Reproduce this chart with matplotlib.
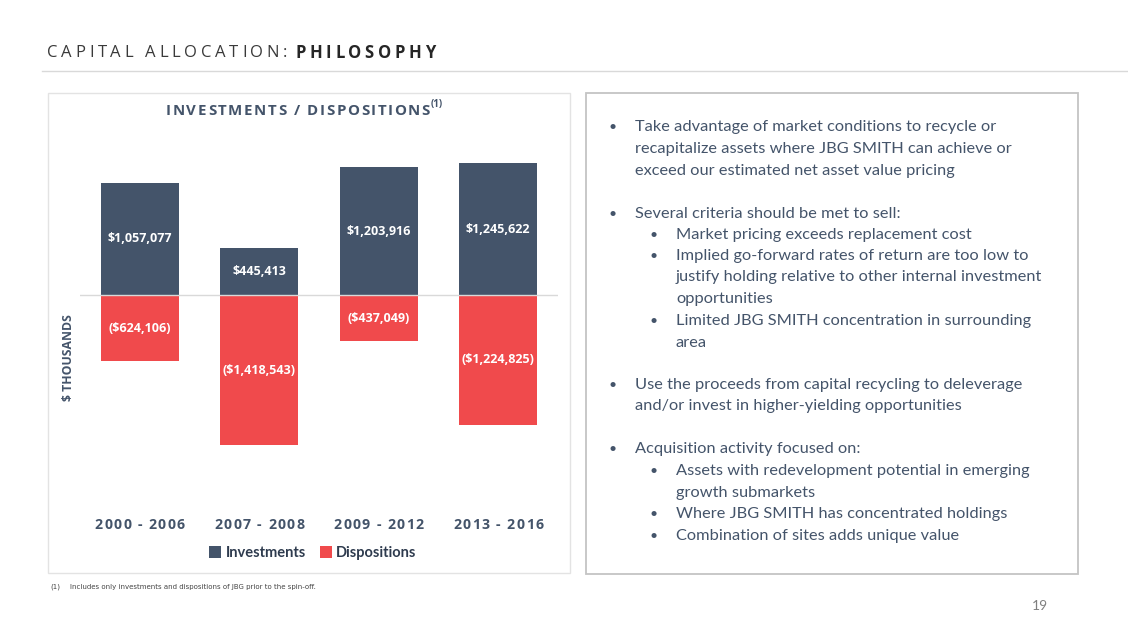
import matplotlib
matplotlib.use("Agg")
import matplotlib.pyplot as plt
from matplotlib.patches import Rectangle
import numpy as np

# data ($ thousands)
periods = ["2000 - 2006", "2007 - 2008", "2009 - 2012", "2013 - 2016"]
investments = [1057077, 445413, 1203916, 1245622]
dispositions = [-624106, -1418543, -437049, -1224825]

bullets = [
    (0, True, 127, "Take advantage of market conditions to recycle or"),
    (0, False, 149, "recapitalize assets where JBG SMITH can achieve or"),
    (0, False, 171, "exceed our estimated net asset value pricing"),
    (0, True, 214, "Several criteria should be met to sell:"),
    (1, True, 235, "Market pricing exceeds replacement cost"),
    (1, True, 256, "Implied go-forward rates of return are too low to"),
    (1, False, 277, "justify holding relative to other internal investment"),
    (1, False, 299, "opportunities"),
    (1, True, 321, "Limited JBG SMITH concentration in surrounding"),
    (1, False, 343, "area"),
    (0, True, 385, "Use the proceeds from capital recycling to deleverage"),
    (0, False, 406, "and/or invest in higher-yielding opportunities"),
    (0, True, 449, "Acquisition activity focused on:"),
    (1, True, 471, "Assets with redevelopment potential in emerging"),
    (1, False, 493, "growth submarkets"),
    (1, True, 514, "Where JBG SMITH has concentrated holdings"),
    (1, True, 536, "Combination of sites adds unique value"),
]

NAVY = "#44546A"
RED = "#F04A4C"

W, H = 1128, 635
fig = plt.figure(figsize=(W / 100, H / 100), dpi=100)
fig.patch.set_facecolor("white")
renderer = fig.canvas.get_renderer()


def fx(px):
    return px / W


def fy(py):
    return 1 - py / H


def advance(s, **kw):
    # width of s including trailing spaces, in pixels
    t = fig.text(0, 0, s + "I", **kw)
    ref = fig.text(0, 0, "I", **kw)
    w = t.get_window_extent(renderer).width - ref.get_window_extent(renderer).width
    t.remove()
    ref.remove()
    return w


def spaced(x, y, s, sp, ha="left", **kw):
    # letter-spaced text, x/y in pixels; returns right edge in pixels
    total = advance(s, **kw) + sp * (len(s) - 1)
    x0 = x - total / 2 if ha == "center" else x
    for i, ch in enumerate(s):
        if ch == " ":
            continue
        xi = x0 + advance(s[:i], **kw) + sp * i
        fig.text(fx(xi), fy(y), ch, ha="left", va="center", **kw)
    return x0 + total


# header
end = spaced(47, 53, "CAPITAL ALLOCATION:", 3.7, fontsize=12, color="#3A3A3A",
             family="Open Sans")
spaced(end + 8, 53, "PHILOSOPHY", 3.7, fontsize=12, color="#262626",
       family="Open Sans", fontweight="bold")
fig.add_artist(plt.Line2D([fx(42), 1], [fy(71), fy(71)], color="#D9D9D9", lw=1))

# panels
fig.add_artist(Rectangle((fx(48), fy(573)), fx(570) - fx(48), fy(93) - fy(573),
                         transform=fig.transFigure, fill=False,
                         edgecolor="#E3E3E3", lw=1))
fig.add_artist(Rectangle((fx(586), fy(574)), fx(1078) - fx(586), fy(93) - fy(574),
                         transform=fig.transFigure, fill=False,
                         edgecolor="#C4C4C4", lw=1.3))

# chart
ax = fig.add_axes([fx(80), fy(470), fx(558) - fx(80), fy(130) - fy(470)])
x = np.arange(len(periods))
b1 = ax.bar(x, investments, width=0.65, color=NAVY, label="Investments")
b2 = ax.bar(x, dispositions, width=0.65, color=RED, label="Dispositions")
ax.bar_label(b1, labels=[f"${v:,.0f}" for v in investments], label_type="center",
             color="white", fontsize=9, fontweight="bold", family="Open Sans")
ax.bar_label(b2, labels=[f"(${-v:,.0f})" for v in dispositions], label_type="center",
             color="white", fontsize=9, fontweight="bold", family="Open Sans")
ax.axhline(0, color="#D9D9D9", lw=1)
ax.set_xlim(-0.5, len(periods) - 0.5)
ax.set_ylim(-1651600, 1557200)
ax.set_xticks([])
ax.set_yticks([])
for s in ax.spines.values():
    s.set_visible(False)
ax.patch.set_alpha(0)

fig.canvas.draw()
for i, p in enumerate(periods):
    xc = ax.transData.transform((i, 0))[0]
    spaced(xc, 525, p, 1.4, ha="center", fontsize=10.2, fontweight="bold",
           color=NAVY, family="Open Sans")

title_end = spaced(298, 111, "INVESTMENTS / DISPOSITIONS", 1.6, ha="center",
                   fontsize=10.8, fontweight="bold", color=NAVY, family="Open Sans")
fig.text(fx(title_end + 1), fy(105), "(1)", fontsize=7, fontweight="bold",
         color=NAVY, family="Open Sans", va="center")

fig.text(fx(68), fy(358), "$ THOUSANDS", rotation=90, ha="center", va="center",
         fontsize=8.8, fontweight="bold", color=NAVY, family="Open Sans")

leg = fig.legend(handles=[b1, b2], loc="center", bbox_to_anchor=(fx(313), fy(553)),
                 ncol=2, frameon=False, handlelength=0.8, handleheight=0.8,
                 handletextpad=0.3, columnspacing=1.0,
                 prop={"family": "Lato", "size": 10.5, "weight": "bold"})
for t in leg.get_texts():
    t.set_color("#2E3B4E")

# bullets on the right
for level, has_bullet, y, line in bullets:
    bx, tx = (613, 635) if level == 0 else (654, 676)
    if has_bullet:
        fig.text(fx(bx), fy(y), "\u2022", ha="center", va="center", fontsize=10,
                 color=NAVY, family="Lato")
    fig.text(fx(tx), fy(y), line, ha="left", va="center", fontsize=11.8,
             color=NAVY, family="Lato")

# footnote and page number
fig.text(fx(50), fy(587), "(1)", fontsize=5, color="#444444", va="center",
         family="Liberation Sans Narrow")
fig.text(fx(70), fy(587), "Includes only investments and dispositions of JBG prior to the spin-off.",
         fontsize=5, color="#444444", va="center", family="Liberation Sans Narrow")
fig.text(fx(1040), fy(606), "19", fontsize=10, color="#7F7F7F", ha="center",
         va="center", family="Lato")

fig.savefig("out.png", dpi=100, facecolor="white")
